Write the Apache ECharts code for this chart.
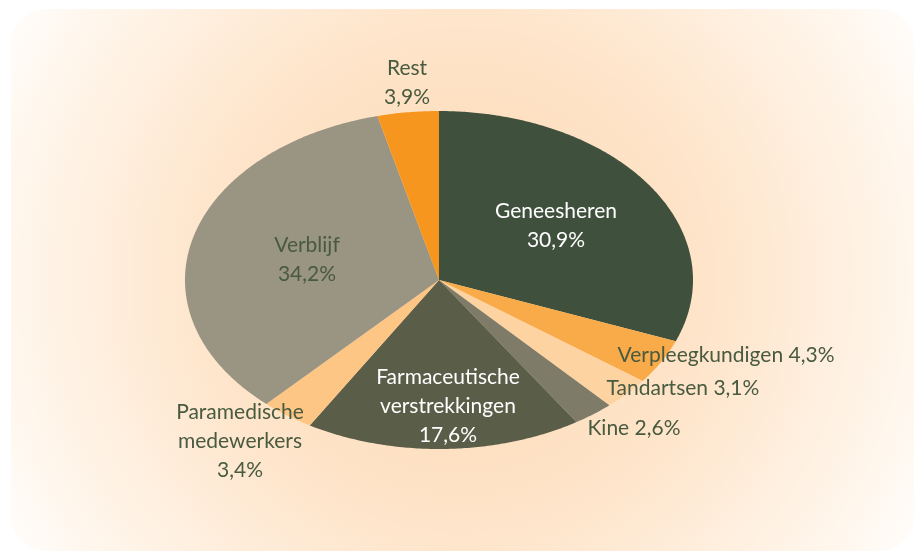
<!DOCTYPE html>
<html>
<head>
<meta charset="utf-8">
<script src="https://cdn.jsdelivr.net/npm/echarts@6/dist/echarts.min.js"></script>
<style>
  html, body { margin: 0; padding: 0; background: #fff; }
  #main { width: 916px; height: 553px; }
</style>
</head>
<body>
<div id="main"></div>
<script type="text/javascript">
  // data (percent of total)
  var names = ['Geneesheren', 'Verpleegkundigen', 'Tandartsen', 'Kine',
               'Farmaceutische verstrekkingen', 'Paramedische medewerkers', 'Verblijf', 'Rest'];
  var values = [30.9, 4.3, 3.1, 2.6, 17.6, 3.4, 34.2, 3.9];

  var colors = ['#3f513c', '#f9ab4a', '#fdd3a2', '#7f7b69',
                '#5a5e48', '#fec685', '#9a9483', '#f7961e'];

  // ellipse geometry of the tilted pie
  var CX = 439, CY = 280, RX = 254, RY = 169;

  function fmt(v) { return v.toFixed(1).replace('.', ','); }

  // cumulative start of each slice
  var rows = [];
  var acc = 0;
  for (var i = 0; i < values.length; i++) {
    rows.push([acc, values[i]]);
    acc += values[i];
  }

  // label texts + where they sit
  var labels = [
    { text: 'Geneesheren\n' + fmt(values[0]) + '%', x: 556, y: 226, fill: '#ffffff' },
    { text: 'Verpleegkundigen ' + fmt(values[1]) + '%', x: 726, y: 355 },
    { text: 'Tandartsen ' + fmt(values[2]) + '%', x: 683, y: 388 },
    { text: 'Kine ' + fmt(values[3]) + '%', x: 634, y: 428 },
    { text: 'Farmaceutische\nverstrekkingen\n' + fmt(values[4]) + '%', x: 448, y: 406, fill: '#ffffff' },
    { text: 'Paramedische\nmedewerkers\n' + fmt(values[5]) + '%', x: 240, y: 441 },
    { text: 'Verblijf\n' + fmt(values[6]) + '%', x: 307, y: 260 },
    { text: 'Rest\n' + fmt(values[7]) + '%', x: 407, y: 83 }
  ];

  var graphics = [{
    type: 'rect',
    z: -10,
    shape: { x: 11, y: 9, width: 903, height: 542, r: 34 },
    style: {
      fill: new echarts.graphic.RadialGradient(0.5, 0.5, 1.0, [
        { offset: 0, color: '#fdd9b3' },
        { offset: 0.45, color: '#fee4c9' },
        { offset: 0.85, color: '#fff7ee' },
        { offset: 1, color: '#ffffff' }
      ])
    }
  }];
  labels.forEach(function (l) {
    graphics.push({
      type: 'text',
      z: 100,
      x: l.x,
      y: l.y,
      style: {
        text: l.text,
        fill: l.fill || '#485a40',
        font: '21px Lato',
        lineHeight: 29,
        textAlign: 'center',
        textVerticalAlign: 'middle'
      }
    });
  });

  var myChart = echarts.init(document.getElementById('main'));
  myChart.setOption({
    backgroundColor: '#ffffff',
    animation: false,
    graphic: graphics,
    series: [{
      type: 'custom',
      coordinateSystem: 'none',
      data: rows,
      renderItem: function (params, api) {
        var start = api.value(0), val = api.value(1);
        var a0 = start / 100 * Math.PI * 2;
        var a1 = (start + val) / 100 * Math.PI * 2;
        var n = Math.max(4, Math.ceil((a1 - a0) / 0.01));
        var pts = [[CX, CY]];
        for (var k = 0; k <= n; k++) {
          var t = a0 + (a1 - a0) * k / n;
          pts.push([CX + RX * Math.sin(t), CY - RY * Math.cos(t)]);
        }
        return {
          type: 'polygon',
          shape: { points: pts },
          style: { fill: colors[params.dataIndex] }
        };
      }
    }]
  });
</script>
</body>
</html>
